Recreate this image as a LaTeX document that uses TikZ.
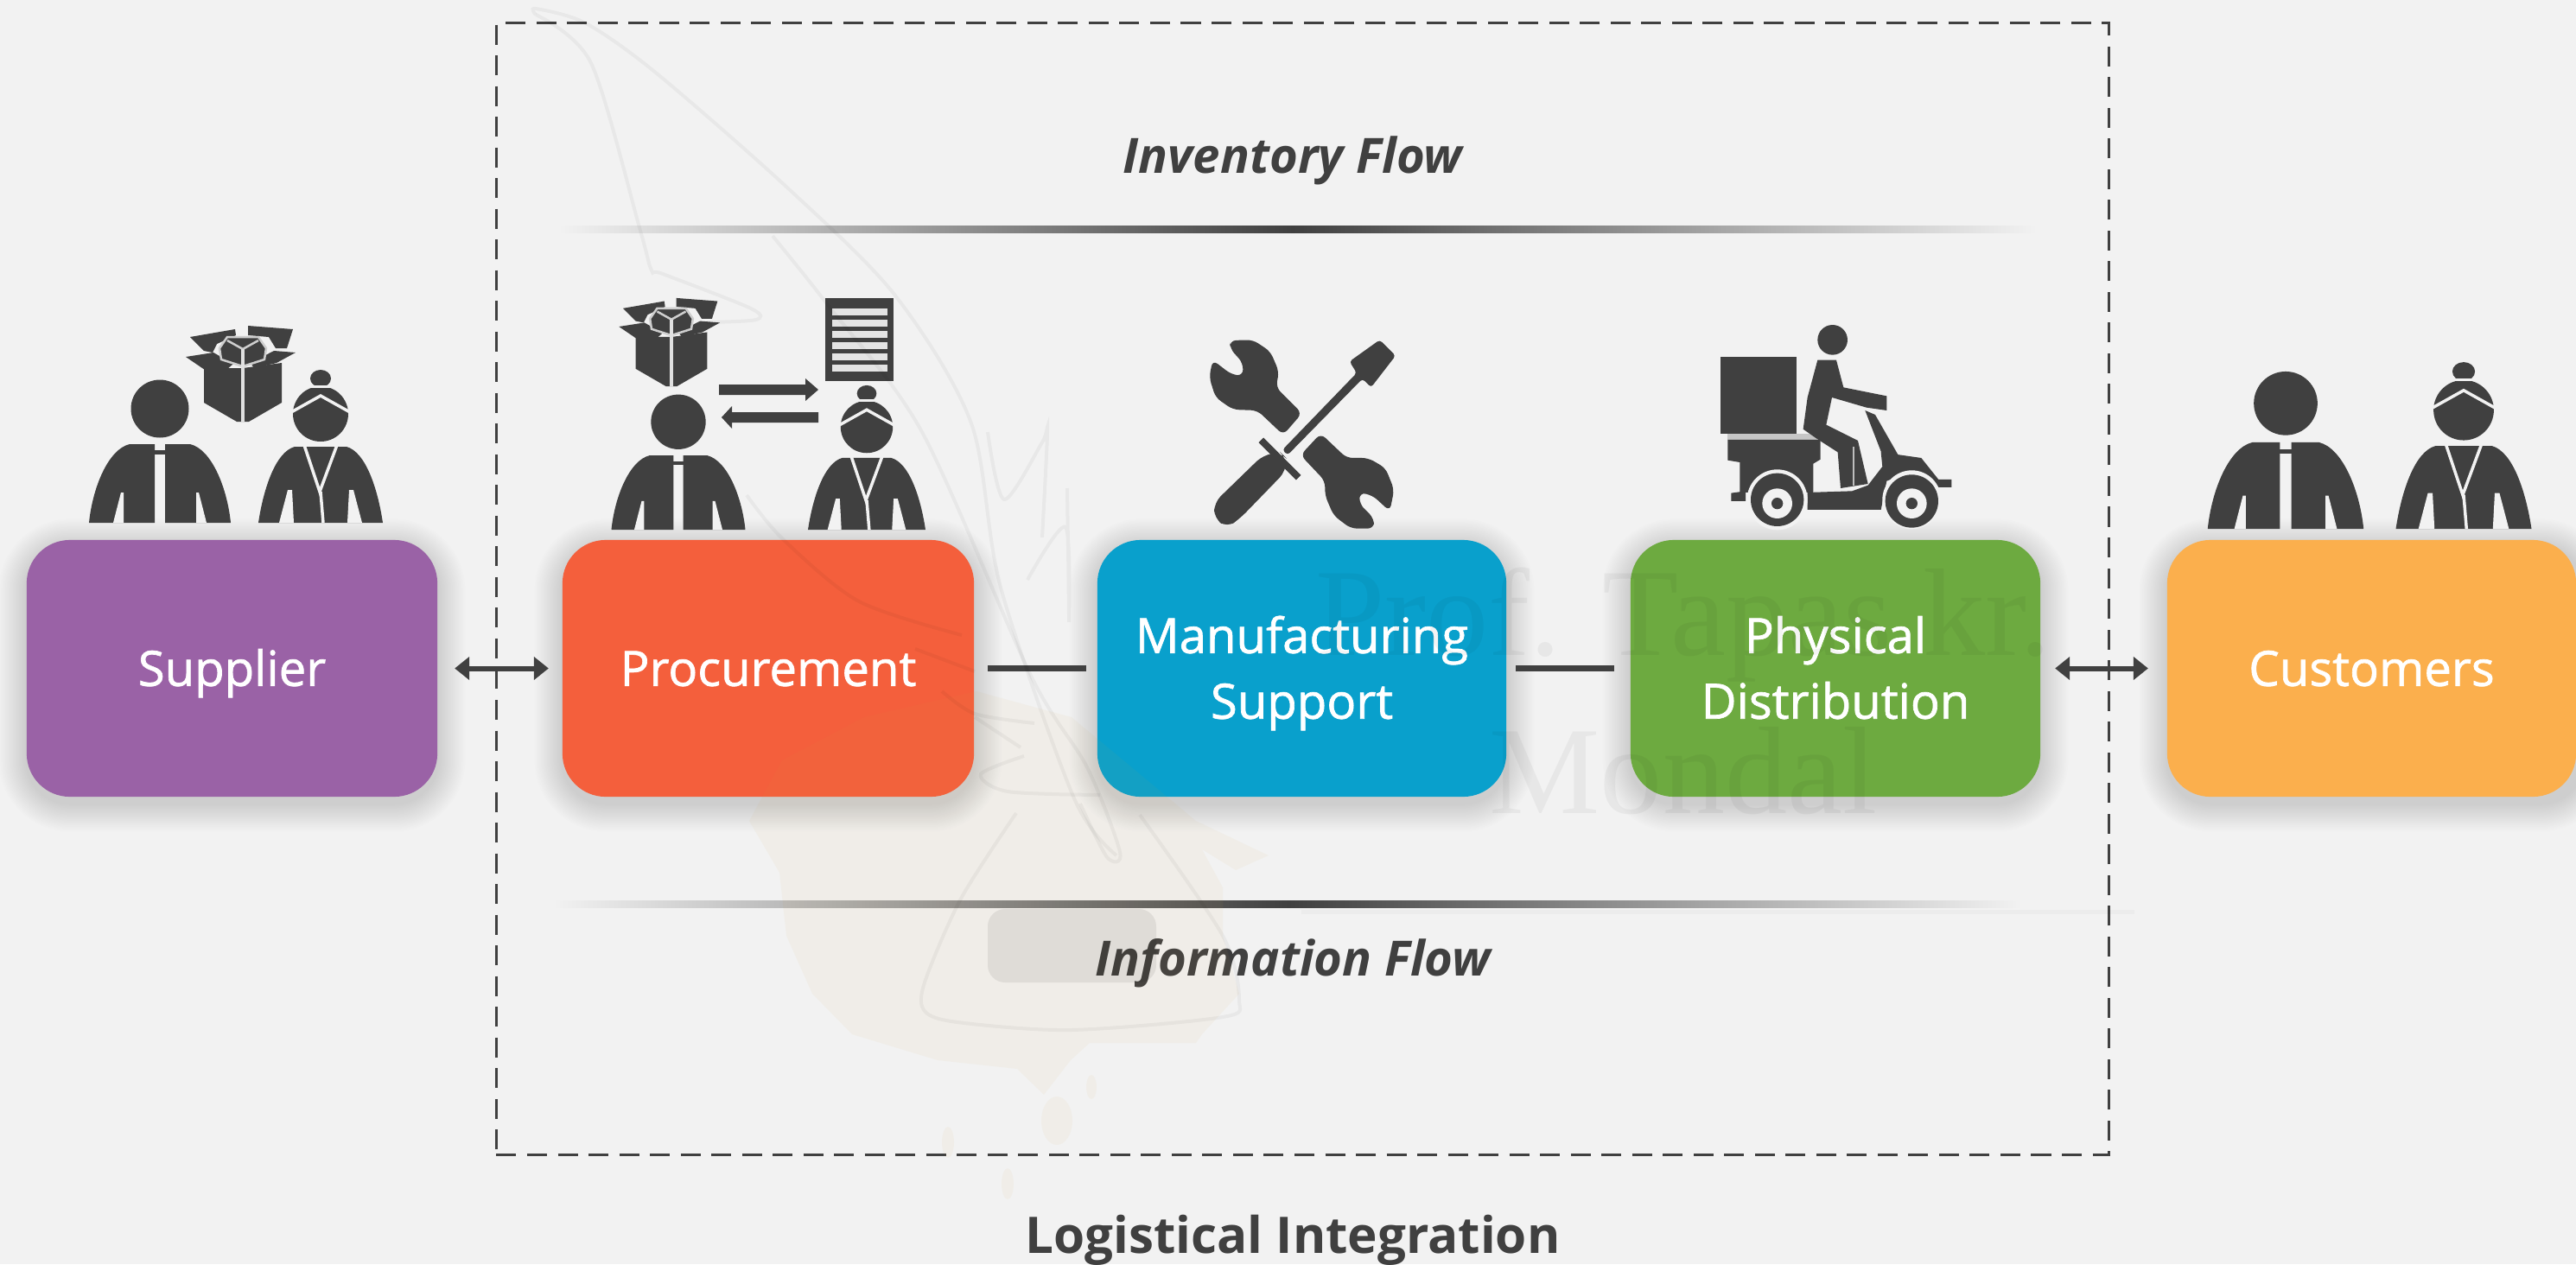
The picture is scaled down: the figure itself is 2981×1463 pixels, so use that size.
\documentclass[tikz,border=0pt]{standalone}
\usepackage{fontspec}
\setmainfont{Open Sans}
\newfontfamily\wmfont{Liberation Serif}
\newfontfamily\lblfont[FakeBold=1.2]{Open Sans}
\usetikzlibrary{arrows.meta}
\definecolor{bgc}{HTML}{F2F2F2}
\definecolor{dk}{HTML}{404040}
\definecolor{cpurple}{HTML}{9A62A6}
\definecolor{corange}{HTML}{F45F3C}
\definecolor{cblue}{HTML}{09A0CC}
\definecolor{cgreen}{HTML}{6DAA40}
\definecolor{cyellow}{HTML}{FBAF4D}
\definecolor{stain}{HTML}{D0A040}
\newcommand{\lblup}{\rule{0pt}{18pt}}
\tikzset{
  stagebox/.style={rounded corners=.5cm,minimum height=2.97cm,inner sep=0pt,outer sep=0pt,align=center,text=white,font=\lblfont\fontsize{16}{21.6}\selectfont},
  linkdbl/.style={{Stealth[length=.17cm,width=.26cm,inset=0pt]}-{Stealth[length=.17cm,width=.26cm,inset=0pt]},draw=dk,line width=.06cm},
  linkplain/.style={draw=dk,line width=.065cm},
  flowlabel/.style={text=dk,font=\fontsize{16}{18}\selectfont\bfseries\itshape},
  wm/.style={draw=black,opacity=.038,line width=.04cm},
  stainfill/.style={fill=stain,opacity=.05},
}
\newcommand{\boxshadow}[4]{%
  \foreach \i in {1,...,18}{%
    \pgfmathsetmacro{\rr}{.5+\i*.018}%
    \fill[black,opacity=.007,rounded corners=\rr cm] ({#1-\i*1.8},{#2-\i*1.8+8}) rectangle ({#3+\i*1.8},{#4+\i*1.8+8});
  }}
\newcommand{\manicon}[3]{%
  \begin{scope}[shift={(#1,#2)},scale=#3]
    \fill[dk] (0,-132) circle [radius=33.5];
    \fill[dk] (-82,0) .. controls (-78,-40) and (-60,-85) .. (-35,-91) -- (-6,-91) -- (-6,0) -- cycle;
    \fill[dk] (82,0) .. controls (78,-40) and (60,-85) .. (35,-91) -- (6,-91) -- (6,0) -- cycle;
    \fill[dk] (-6,-84) rectangle (6,-79);
    \fill[bgc] (-54,0) -- (-45,-35) -- (-42,-35) -- (-42,0) -- cycle;
    \fill[bgc] (54,0) -- (45,-35) -- (42,-35) -- (42,0) -- cycle;
  \end{scope}}
\newcommand{\womanicon}[3]{%
  \begin{scope}[shift={(#1,#2)},scale=#3]
    \fill[dk] (0,-126) circle [radius=32];
    \fill[dk] (0,-167) ellipse [x radius=12,y radius=10];
    \draw[bgc,line width=.03cm] (-12,-158) -- (12,-158);
    \draw[bgc,line width=.035cm] (-34,-128) -- (0,-147) -- (34,-128);
    \fill[dk] (-72,0) .. controls (-66,-40) and (-52,-82) .. (-30,-88) -- (30,-88) .. controls (52,-82) and (66,-40) .. (72,0) -- cycle;
    \fill[bgc] (-48,0) -- (-38,-38) -- (-33,-38) -- (-31,0) -- cycle;
    \fill[bgc] (48,0) -- (38,-38) -- (33,-38) -- (31,0) -- cycle;
    \draw[bgc,line width=.035cm] (-19,-90) -- (-1,-36) -- (19,-90);
    \draw[bgc,line width=.035cm] (0,-36) -- (3,0);
  \end{scope}}
\newcommand{\boxicon}[3]{%
  \begin{scope}[shift={(#1,#2)},scale=#3]
    \fill[dk] (-45,-62) -- (-45,-22) -- (-7,0) -- (7,0) -- (45,-22) -- (45,-68) -- (0,-62) -- cycle;
    \fill[dk] (-61,-98) -- (-9,-107) -- (-8,-100) -- (-30,-90) -- (-35,-80) -- (-45,-82) -- cycle;
    \fill[dk] (6,-111) -- (58,-107) -- (51,-85) -- (38,-85) -- (30,-98) -- (6,-100) -- cycle;
    \fill[dk] (-66,-75) -- (-34,-80) -- (-11,-67) -- (-27,-53) -- (-44,-60) -- cycle;
    \fill[dk] (9,-68) -- (36,-82) -- (61,-80) -- (39,-68) -- (13,-62) -- cycle;
    \filldraw[draw=bgc!80!dk,fill=dk,line width=.025cm] (-27,-85) -- (-18,-98) -- (18,-98) -- (27,-85) -- (25,-72) -- (0,-64) -- (-25,-72) -- cycle;
    \draw[bgc!80!dk,line width=.025cm] (-18,-94) -- (0,-84) -- (18,-94);
    \draw[bgc!90!dk,line width=.04cm] (0,-84) -- (0,0);
  \end{scope}}
\begin{document}
\begin{tikzpicture}[x=.01cm,y=-.01cm]
\useasboundingbox (0,0) rectangle (2981,1463);
\fill[bgc] (0,0) rectangle (2981,1463);
% dashed region
\node[draw=dk,dash pattern=on .23cm off .125cm,line width=.035cm,minimum width=18.65cm,minimum height=13.09cm,inner sep=0pt,outer sep=0pt] (region) at (1507.5,681.5) {};
% flow bars
\shade[left color=bgc,right color=dk] (646,261) rectangle (1496,269);
\shade[left color=dk,right color=bgc] (1496,261) rectangle (2357,269);
\shade[left color=bgc,right color=dk] (640,1042) rectangle (1491,1050);
\shade[left color=dk,right color=bgc] (1491,1042) rectangle (2340,1050);
\node[flowlabel] (inv) at (1496,186) {Inventory Flow};
\node[flowlabel] (info) at (1496,1115) {Information Flow};
\node[text=dk,font=\fontsize{16.6}{20}\selectfont\bfseries] (title) at (1496,1435) {Logistical Integration};
% shadows
\boxshadow{31}{625}{506}{922}
\boxshadow{651}{625}{1127}{922}
\boxshadow{1270}{625}{1743}{922}
\boxshadow{1887}{625}{2361}{922}
\boxshadow{2508}{625}{2990}{922}
% stage boxes
\node[stagebox,fill=cpurple,minimum width=4.75cm] (supplier) at (268.5,773.5) {\lblup\strut Supplier};
\node[stagebox,fill=corange,minimum width=4.76cm] (procurement) at (889,773.5) {\lblup\strut Procurement};
\node[stagebox,fill=cblue,minimum width=4.73cm] (manufacturing) at (1506.5,773.5) {\lblup\strut Manufacturing\\\strut Support};
\node[stagebox,fill=cgreen,minimum width=4.74cm] (physical) at (2124,773.5) {\lblup\strut Physical\\\strut Distribution};
\node[stagebox,fill=cyellow,minimum width=4.73cm] (customers) at (2744.5,773.5) {\lblup\strut Customers};
% connectors
\draw[linkdbl,shorten <=.2cm,shorten >=.16cm] (supplier) -- (procurement);
\draw[linkplain,shorten <=.16cm,shorten >=.13cm] (procurement) -- (manufacturing);
\draw[linkplain,shorten <=.11cm,shorten >=.19cm] (manufacturing) -- (physical);
\draw[linkdbl,shorten <=.17cm,shorten >=.22cm] (physical) -- (customers);
% people and parcels
\manicon{185}{605}{1}
\womanicon{371}{605}{1}
\boxicon{281}{488}{1}
\manicon{785}{613}{.945}
\womanicon{1003}{613}{.944}
\boxicon{777}{447}{.92}
\manicon{2645}{612}{1.1}
\womanicon{2851}{612}{1.09}
% document
\fill[dk] (955,345) rectangle (1034,441);
\foreach \yy in {357,370,383,396,409,422}{\fill[bgc!92!dk] (963,\yy) rectangle (1027,\yy+8);}
% small exchange arrows
\fill[dk] (832,445) -- (932,445) -- (932,438) -- (947,451) -- (932,464) -- (932,457) -- (832,457) -- cycle;
\fill[dk] (947,477) -- (847,477) -- (847,470) -- (835,483) -- (847,496) -- (847,489) -- (947,489) -- cycle;
% tools
\begin{scope}[shift={(1370,370)},scale=.3333]
  \fill[dk,rounded corners=2pt] (160,72) -- (240,70) -- (300,110) -- (330,180) -- (320,235) -- (410,325) -- (345,400) -- (255,315) -- (170,312) -- (110,270) -- (88,200) -- (100,140) -- (165,190) -- (205,195) -- (205,150) -- (160,100) -- cycle;
  \fill[dk,rounded corners=2pt] (475,395) -- (565,480) -- (640,480) -- (700,515) -- (730,590) -- (715,665) -- (655,610) -- (610,600) -- (610,640) -- (660,690) -- (660,725) -- (580,725) -- (520,680) -- (490,610) -- (490,560) -- (405,470) -- cycle;
  \fill[dk,rounded corners=1pt] (575,145) -- (680,70) -- (735,125) -- (650,235) -- (620,205) -- (360,470) -- (342,452) -- (600,185) -- cycle;
  \fill[dk,rounded corners=3pt] (335,460) -- (355,480) -- (355,525) -- (195,690) -- (150,722) -- (105,690) -- (105,635) -- (275,470) -- cycle;
  \draw[dk,line width=.08cm] (268,418) -- (398,548);
\end{scope}
% scooter
\begin{scope}[shift={(1970,360)},scale=.3333]
  \fill[dk] (452,100) circle [radius=52];
  \fill[dk] (63,160) rectangle (328,425);
  \fill[bgc!75!dk] (88,425) rectangle (400,447);
  \fill[dk] (88,447) -- (410,447) -- (410,515) -- (385,530) -- (385,630) -- (130,630) -- (130,525) -- (88,518) -- cycle;
  \fill[dk] (100,632) -- (150,625) -- (150,660) -- (100,660) -- cycle;
  \fill[dk] (400,170) -- (465,170) -- (490,265) -- (640,295) -- (640,345) -- (570,335) -- (450,300) -- (430,395) -- (540,450) -- (575,600) -- (480,615) -- (470,490) -- (400,445) -- (350,410) -- (365,300) -- cycle;
  \draw[bgc!70!dk,line width=.025cm] (525,470) -- (525,605);
  \fill[dk] (565,345) -- (600,360) -- (680,500) -- (625,500) -- cycle;
  \fill[dk] (620,490) -- (760,510) -- (820,585) -- (865,585) -- (865,612) -- (800,612) -- (720,560) -- (640,590) -- (620,690) -- (365,690) -- (365,630) -- (520,625) -- (575,605) -- (625,540) -- cycle;
  \fill[bgc] (260,655) circle [radius=105];
  \fill[dk] (260,655) circle [radius=92];
  \fill[bgc] (260,668) circle [radius=52];
  \fill[dk] (260,668) circle [radius=20];
  \fill[bgc] (727,655) circle [radius=102];
  \fill[dk] (727,660) circle [radius=92];
  \fill[bgc] (727,668) circle [radius=52];
  \fill[dk] (727,668) circle [radius=20];
\end{scope}
% watermark stain and quill
\fill[stainfill] (905,880) -- (1000,830) -- (1130,800) -- (1240,830) -- (1300,880) -- (1384,950) -- (1468,990) -- (1430,1007) -- (1391,983) -- (1415,1027) -- (1415,1083) -- (1434,1150) -- (1391,1197) -- (1384,1207) -- (1261,1207) -- (1239,1227) -- (1208,1267) -- (1177,1237) -- (1085,1227) -- (986,1197) -- (940,1150) -- (910,1083) -- (902,1010) -- (867,950) -- cycle;
\fill[stainfill] (1223,1297) ellipse [x radius=18,y radius=28];
\fill[stainfill] (1097,1322) ellipse [x radius=7,y radius=18];
\fill[stainfill] (1166,1370) ellipse [x radius=7,y radius=18];
\fill[stainfill] (1263,1258) ellipse [x radius=6,y radius=14];
\fill[black,opacity=.07,rounded corners=.2cm] (1143,1052) rectangle (1338,1137);
\draw[wm,opacity=.025,line width=.05cm] (1506,1055) -- (2470,1055);
\draw[wm] plot[smooth] coordinates {(620,17) (684,73) (741,267) (754,313) (767,317) (869,357) (875,370) (818,373)};
\draw[wm] plot[smooth] coordinates {(620,17) (620,10) (678,27) (760,85) (912,218) (1036,342) (1124,490) (1158,680) (1243,924) (1292,990)};
\draw[wm] plot[smooth] coordinates {(894,273) (958,353) (1067,500) (1193,782) (1258,888) (1296,986) (1281,992) (1250,930)};
\draw[wm] plot[smooth] coordinates {(1143,500) (1162,578) (1206,512) (1212,500) (1206,622)};
\draw[wm] plot[smooth] coordinates {(1235,565) (1237,720) (1233,610) (1189,671)};
\draw[wm] plot[smooth] coordinates {(864,573) (906,624) (994,696) (1113,735)};
\draw[wm] plot[smooth] coordinates {(1059,751) (1128,777)};
\draw[wm] plot[smooth] coordinates {(1090,800) (1128,826) (1197,837)};
\draw[wm] plot[smooth] coordinates {(1128,830) (1181,865)};
\draw[wm] plot[smooth] coordinates {(1185,875) (1135,896) (1166,916) (1273,920)};
\draw[wm] plot[smooth] coordinates {(1176,941) (1112,1040) (1070,1137) (1070,1170) (1108,1183) (1239,1192) (1415,1177) (1434,1157) (1415,1083) (1319,943)};
\node[opacity=.045,text=black,align=center,font=\wmfont\fontsize{41}{51.8}\selectfont,inner sep=0pt] (wmtext) at (1948,800) {Prof. Tapas kr.\\Mondal};
\end{tikzpicture}
\end{document}
